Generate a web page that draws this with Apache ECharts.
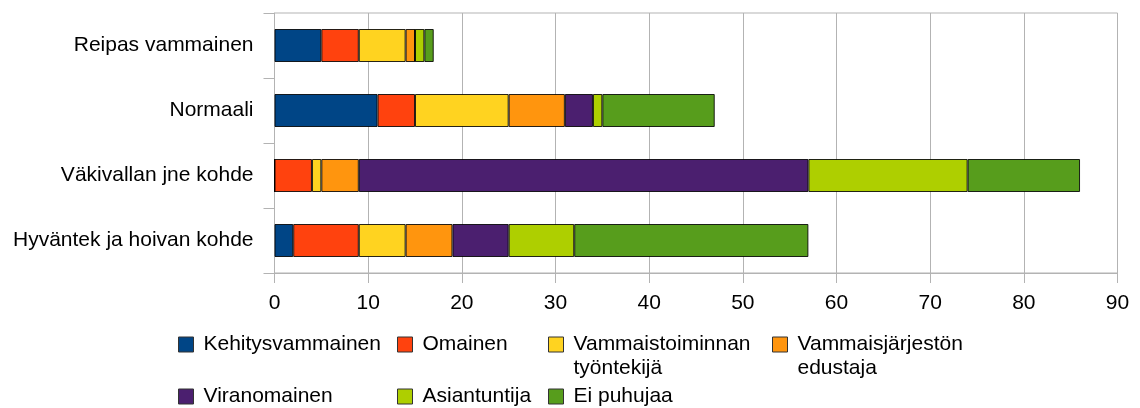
<!DOCTYPE html>
<html>
<head>
<meta charset="utf-8">
<script src="https://cdn.jsdelivr.net/npm/echarts@6/dist/echarts.min.js"></script>
<style>
html,body{margin:0;padding:0;background:#fff;}
#chart{width:1140px;height:408px;}
</style>
</head>
<body>
<div id="chart"></div>
<script>
const categories = ['Reipas vammainen', 'Normaali', 'Väkivallan jne kohde', 'Hyväntek ja hoivan kohde'];
const xTicks = [0, 10, 20, 30, 40, 50, 60, 70, 80, 90];
const seriesNames = ['Kehitysvammainen', 'Omainen', 'Vammaistoiminnan työntekijä', 'Vammaisjärjestön edustaja', 'Viranomainen', 'Asiantuntija', 'Ei puhujaa'];
const kehitysvammainen = [5, 11, 0, 2];
const omainen = [4, 4, 4, 7];
const vammaistoiminnanTyontekija = [5, 10, 1, 5];
const vammaisjarjestonEdustaja = [1, 6, 4, 5];
const viranomainen = [0, 3, 48, 6];
const asiantuntija = [1, 1, 17, 7];
const eiPuhujaa = [1, 12, 12, 25];
const seriesValues = [kehitysvammainen, omainen, vammaistoiminnanTyontekija, vammaisjarjestonEdustaja, viranomainen, asiantuntija, eiPuhujaa];
const colors = ['#004586', '#ff420e', '#ffd320', '#ff950e', '#4b1f6f', '#aecf00', '#579d1c'];

const FONT = 'Liberation Sans, Arial, sans-serif';
const GRAY = '#b3b3b3';

// legend placement: [left of icon, top of icon, wrapped]
const legendPos = [
  [178, 337, false],
  [397, 337, false],
  [548, 337, true],
  [772, 337, true],
  [178, 389, false],
  [397, 389, false],
  [548, 389, false]
];

const legends = seriesNames.map((name, i) => {
  const [lx, ly, wrapped] = legendPos[i];
  return {
    data: [name],
    left: lx,
    top: wrapped ? ly - 28.5 : ly - 4.5,
    padding: 0,
    itemWidth: 15,
    itemHeight: 15,
    selectedMode: false,
    icon: 'rect',
    itemStyle: { borderColor: '#333', borderWidth: 1 },
    textStyle: { fontSize: 21, color: '#000', fontFamily: FONT, lineHeight: 24, padding: [0, 0, 0, 5] },
    formatter: wrapped ? (n => '\n' + n.replace(' ', '\n')) : (n => n)
  };
});

const chart = echarts.init(document.getElementById('chart'), null, { renderer: 'canvas' });
chart.setOption({
  animation: false,
  backgroundColor: '#fff',
  grid: {
    left: 274.5, right: 22.5, top: 13, bottom: 135,
    show: true, borderColor: GRAY, borderWidth: 1, backgroundColor: 'transparent'
  },
  legend: legends,
  xAxis: {
    type: 'value',
    min: xTicks[0],
    max: xTicks[xTicks.length - 1],
    interval: xTicks[1] - xTicks[0],
    axisLine: { show: true, lineStyle: { color: GRAY, width: 1 } },
    axisTick: { show: true, length: 10, lineStyle: { color: GRAY } },
    splitLine: { show: true, lineStyle: { color: GRAY, width: 1 } },
    axisLabel: { fontSize: 21, color: '#000', fontFamily: FONT, margin: 20 }
  },
  yAxis: {
    type: 'category',
    data: categories,
    inverse: true,
    axisLine: { show: true, lineStyle: { color: GRAY, width: 1 } },
    axisTick: { show: true, length: 11, lineStyle: { color: GRAY } },
    splitLine: { show: false },
    axisLabel: { fontSize: 21, color: '#000', fontFamily: FONT, margin: 21 }
  },
  series: seriesNames.map((name, i) => ({
    name: name,
    type: 'bar',
    stack: 'total',
    barWidth: 33,
    data: seriesValues[i],
    itemStyle: { color: colors[i], borderColor: 'rgba(0,0,0,0.85)', borderWidth: 1 },
    emphasis: { disabled: true }
  }))
});
</script>
</body>
</html>
